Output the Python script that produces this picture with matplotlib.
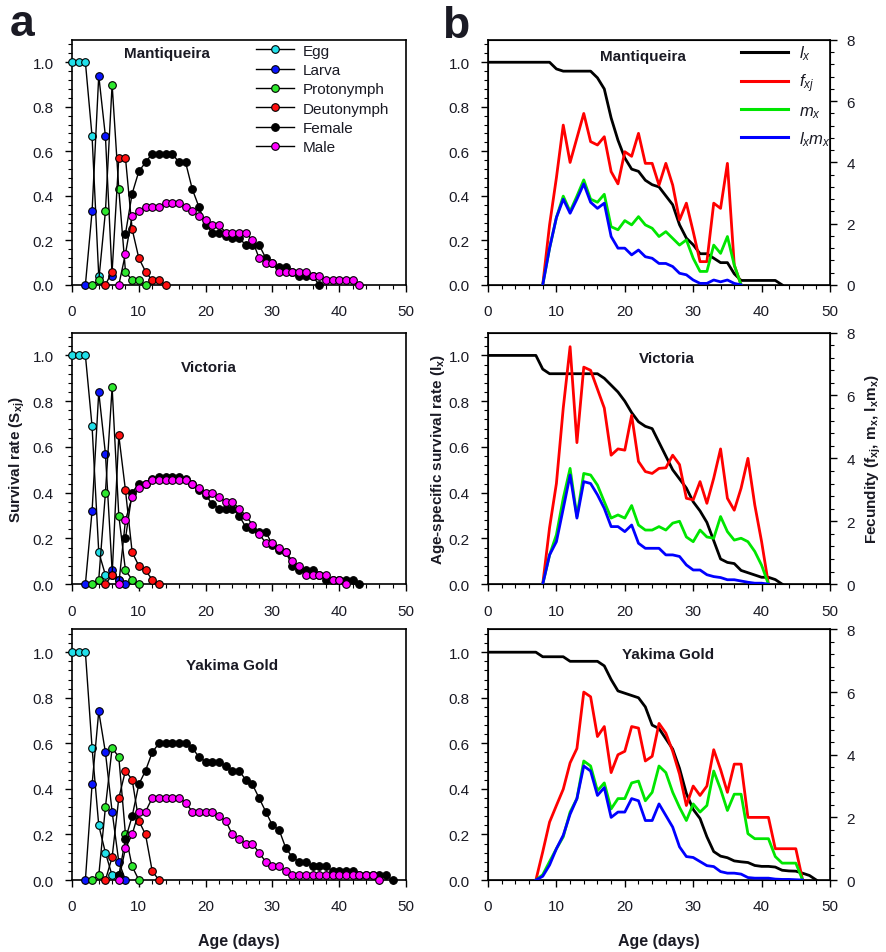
import matplotlib
matplotlib.use("Agg")
import matplotlib.pyplot as plt
import numpy as np
from matplotlib.lines import Line2D
from matplotlib.ticker import MultipleLocator

plt.rcParams["font.family"] = ["Liberation Sans", "DejaVu Sans"]
plt.rcParams["mathtext.fontset"] = "custom"
plt.rcParams["mathtext.rm"] = "Liberation Sans"
plt.rcParams["mathtext.it"] = "Liberation Sans:italic"
plt.rcParams["mathtext.bf"] = "Liberation Sans:bold"

# Age-stage survival rates (s_xj): (first day, daily values)
mant_egg = (0, [1, 1, 1, 0.667, 0.04])
mant_larva = (2, [0, 0.33, 0.94, 0.667, 0.04])
mant_proto = (3, [0, 0.02, 0.33, 0.90, 0.43, 0.06, 0.02, 0.02, 0.0])
mant_deuto = (5, [0, 0.06, 0.57, 0.57, 0.25, 0.12, 0.06, 0.02, 0.02, 0.0])
mant_female = (8, [0.23, 0.41, 0.51, 0.55, 0.59, 0.59, 0.59, 0.59, 0.55, 0.55,
                   0.43, 0.35, 0.27, 0.235, 0.235, 0.22, 0.21, 0.21, 0.18, 0.18,
                   0.18, 0.12, 0.10, 0.08, 0.08, 0.06, 0.04, 0.04, 0.04, 0.0])
mant_male = (7, [0, 0.14, 0.31, 0.33, 0.35, 0.35, 0.35, 0.37, 0.37, 0.37,
                 0.35, 0.33, 0.31, 0.29, 0.27, 0.27, 0.235, 0.235, 0.235, 0.235,
                 0.20, 0.12, 0.10, 0.10, 0.06, 0.06, 0.06, 0.06, 0.06, 0.04,
                 0.04, 0.02, 0.02, 0.02, 0.02, 0.02, 0.0])

vic_egg = (0, [1, 1, 1, 0.69, 0.14, 0.04, 0.04, 0.02])
vic_larva = (2, [0, 0.32, 0.84, 0.57, 0.06, 0.02, 0])
vic_proto = (3, [0, 0.02, 0.40, 0.86, 0.30, 0.06, 0.02, 0])
vic_deuto = (5, [0, 0.04, 0.65, 0.41, 0.14, 0.08, 0.06, 0.02, 0.0])
vic_female = (8, [0.20, 0.40, 0.44, 0.44, 0.46, 0.47, 0.47, 0.47, 0.47, 0.46,
                  0.44, 0.41, 0.39, 0.35, 0.33, 0.33, 0.33, 0.30, 0.25, 0.24,
                  0.23, 0.23, 0.17, 0.15, 0.14, 0.08, 0.06, 0.06, 0.06, 0.04,
                  0.02, 0.02, 0.02, 0.02, 0.02, 0.0])
vic_male = (7, [0, 0.28, 0.38, 0.42, 0.44, 0.455, 0.455, 0.455, 0.455, 0.455,
                0.455, 0.44, 0.42, 0.40, 0.40, 0.38, 0.36, 0.36, 0.33, 0.30,
                0.26, 0.22, 0.18, 0.18, 0.16, 0.14, 0.10, 0.08, 0.04, 0.04,
                0.04, 0.04, 0.02, 0.02, 0.0])

yak_egg = (0, [1, 1, 1, 0.58, 0.24, 0.12, 0.02, 0.02])
yak_larva = (2, [0, 0.42, 0.74, 0.56, 0.30, 0.08, 0.0])
yak_proto = (3, [0, 0.02, 0.32, 0.58, 0.54, 0.20, 0.06, 0.0])
yak_deuto = (5, [0, 0.10, 0.36, 0.48, 0.44, 0.26, 0.20, 0.04, 0.0])
yak_female = (7, [0.02, 0.18, 0.28, 0.42, 0.48, 0.56, 0.60, 0.60, 0.60, 0.60,
                  0.60, 0.58, 0.54, 0.52, 0.52, 0.52, 0.50, 0.48, 0.48, 0.44,
                  0.42, 0.36, 0.30, 0.24, 0.22, 0.14, 0.10, 0.08, 0.08, 0.06,
                  0.06, 0.06, 0.04, 0.04, 0.04, 0.04, 0.02, 0.02, 0.02, 0.02,
                  0.02, 0.0])
yak_male = (7, [0, 0.14, 0.20, 0.30, 0.30, 0.36, 0.36, 0.36, 0.36, 0.36,
                0.34, 0.30, 0.30, 0.30, 0.30, 0.28, 0.26, 0.20, 0.18, 0.16,
                0.16, 0.12, 0.08, 0.06, 0.06, 0.04, 0.02, 0.02, 0.02, 0.02,
                0.02, 0.02, 0.02, 0.02, 0.02, 0.02, 0.02, 0.02, 0.02, 0.0])

# Survivorship l_x (from day 0) and fecundity curves (from first reproductive day)
mant_lx = [1, 1, 1, 1, 1, 1, 1, 1, 1, 1, 0.97, 0.96, 0.96, 0.96, 0.96, 0.96,
           0.93, 0.88, 0.75, 0.65, 0.57, 0.52, 0.51, 0.47, 0.45, 0.44, 0.40,
           0.36, 0.27, 0.21, 0.18, 0.14, 0.14, 0.12, 0.10, 0.10, 0.05, 0.02,
           0.02, 0.02, 0.02, 0.02, 0.02, 0.0]
mant_fec_start = 8
mant_fxj = [0, 1.96, 3.5, 5.22, 4.0, 4.8, 5.6, 4.68, 4.57, 4.84, 3.7, 3.3, 4.35,
            4.2, 4.95, 3.97, 3.97, 3.26, 3.97, 3.26, 2.12, 2.67, 1.74, 0.76,
            0.76, 2.67, 2.5, 3.97, 0.65, 0]
mant_mx = [0, 1.2, 2.2, 2.9, 2.4, 2.9, 3.43, 2.8, 2.7, 2.96, 1.9, 1.8, 2.1,
           1.96, 2.23, 1.96, 1.85, 1.58, 1.74, 1.52, 1.3, 1.47, 0.87, 0.44,
           0.44, 1.3, 1.03, 1.58, 0.65, 0]
mant_lxmx = [0, 1.2, 2.2, 2.8, 2.34, 2.8, 3.3, 2.7, 2.5, 2.67, 1.58, 1.2, 1.2,
             0.98, 1.14, 0.92, 0.87, 0.7, 0.7, 0.6, 0.38, 0.33, 0.16, 0.05,
             0.05, 0.16, 0.1, 0.16, 0.05, 0]

vic_lx = [1, 1, 1, 1, 1, 1, 1, 1, 0.94, 0.92, 0.92, 0.92, 0.92, 0.92, 0.92,
          0.92, 0.92, 0.90, 0.87, 0.84, 0.80, 0.75, 0.71, 0.69, 0.68, 0.62,
          0.56, 0.50, 0.46, 0.42, 0.36, 0.32, 0.27, 0.19, 0.11, 0.095, 0.09,
          0.06, 0.05, 0.04, 0.03, 0.03, 0.02, 0.0]
vic_fec_start = 8
vic_fxj = [0, 1.8, 3.2, 5.6, 7.55, 4.5, 6.9, 6.8, 6.2, 5.6, 4.1, 4.3, 4.26,
           5.37, 3.9, 3.58, 3.52, 3.68, 3.7, 4.1, 3.8, 2.73, 2.68, 3.26, 2.57,
           3.37, 4.3, 2.73, 2.35, 3.05, 4.0, 2.52, 1.35, 0]
vic_mx = [0, 0.93, 1.57, 2.73, 3.68, 2.15, 3.52, 3.47, 3.15, 2.62, 2.1, 2.2,
          2.1, 2.5, 1.88, 1.72, 1.72, 1.83, 1.72, 1.94, 2.0, 1.5, 1.35, 1.72,
          1.5, 1.46, 2.15, 1.67, 1.4, 1.46, 1.35, 1.04, 0.6, 0]
vic_lxmx = [0, 0.93, 1.35, 2.4, 3.47, 2.1, 3.26, 3.2, 2.84, 2.41, 1.83, 1.83,
            1.67, 1.88, 1.3, 1.14, 1.14, 1.14, 0.93, 0.93, 0.88, 0.61, 0.45,
            0.45, 0.3, 0.24, 0.21, 0.14, 0.14, 0.1, 0.06, 0.03, 0.03, 0]

yak_lx = [1, 1, 1, 1, 1, 1, 1, 1, 0.98, 0.98, 0.98, 0.98, 0.96, 0.96, 0.96,
          0.96, 0.96, 0.94, 0.88, 0.83, 0.82, 0.81, 0.80, 0.76, 0.68, 0.665,
          0.62, 0.575, 0.49, 0.38, 0.31, 0.27, 0.19, 0.125, 0.105, 0.098,
          0.084, 0.08, 0.077, 0.064, 0.06, 0.06, 0.057, 0.043, 0.04, 0.039,
          0.03, 0.02, 0.0]
yak_fec_start = 7
yak_fxj = [0, 0.9, 1.85, 2.38, 2.9, 3.74, 4.2, 6.0, 5.85, 4.58, 4.9, 3.43, 4.0,
           4.11, 4.9, 4.85, 3.8, 3.95, 5.0, 4.69, 4.11, 3.38, 2.38, 3.0, 2.7,
           3.0, 4.16, 3.53, 2.8, 3.7, 3.7, 2.0, 2.0, 2.0, 2.0, 1.0, 1.0, 1.0,
           1.0, 0]
yak_mx = [0, 0.17, 0.59, 1.0, 1.38, 2.17, 2.6, 3.8, 3.64, 2.85, 3.1, 2.27, 2.6,
          2.6, 3.1, 3.16, 2.53, 2.8, 3.64, 3.43, 2.8, 2.32, 1.9, 2.43, 2.17,
          2.38, 3.48, 2.9, 2.22, 2.74, 2.74, 1.48, 1.32, 1.32, 1.32, 0.75,
          0.54, 0.54, 0.54, 0]
yak_lxmx = [0, 0.12, 0.48, 1.0, 1.43, 2.1, 2.6, 3.64, 3.48, 2.7, 2.95, 2.0,
            2.17, 2.17, 2.6, 2.53, 1.9, 1.9, 2.43, 2.06, 1.69, 1.06, 0.75,
            0.72, 0.59, 0.46, 0.43, 0.27, 0.22, 0.22, 0.19, 0.08, 0.06, 0.06,
            0.06, 0.03, 0.02, 0.02, 0.01, 0]

cultivars = ["Mantiqueira", "Victoria", "Yakima Gold"]
stage_names = ["Egg", "Larva", "Protonymph", "Deutonymph", "Female", "Male"]
stage_colors = ["#22e0ea", "#0a14ff", "#2ee82e", "#ff1010", "#000000", "#ff00ff"]

stages = [
    [mant_egg, mant_larva, mant_proto, mant_deuto, mant_female, mant_male],
    [vic_egg, vic_larva, vic_proto, vic_deuto, vic_female, vic_male],
    [yak_egg, yak_larva, yak_proto, yak_deuto, yak_female, yak_male],
]
life = [
    (mant_lx, mant_fec_start, mant_fxj, mant_mx, mant_lxmx),
    (vic_lx, vic_fec_start, vic_fxj, vic_mx, vic_lxmx),
    (yak_lx, yak_fec_start, yak_fxj, yak_mx, yak_lxmx),
]

TXT = "#1a1a24"


def style_axis(ax):
    ax.set_xlim(0, 50)
    ax.set_ylim(0, 1.1)
    ax.set_xticks(range(0, 51, 10))
    ax.set_yticks(np.arange(0, 1.01, 0.2))
    ax.yaxis.set_major_formatter(matplotlib.ticker.FormatStrFormatter("%.1f"))
    ax.xaxis.set_minor_locator(MultipleLocator(2))
    ax.yaxis.set_minor_locator(MultipleLocator(0.04))
    ax.tick_params(which="major", direction="out", length=5, width=1,
                   labelsize=11, labelcolor=TXT)
    ax.tick_params(which="minor", direction="out", length=3, width=0.8)
    ax.tick_params(axis="x", which="major", pad=9)
    ax.tick_params(axis="y", which="major", pad=8)
    for s in ax.spines.values():
        s.set_linewidth(1.2)


fig = plt.figure(figsize=(8.86, 9.53), dpi=100)
rows = [(0.700, 0.257), (0.386, 0.264), (0.0755, 0.263)]
title_pos_a = [(14.2, 1.04), (20.5, 0.95), (24.0, 0.945)]
title_pos_b = [(22.7, 1.03), (26.2, 0.99), (26.3, 0.99)]

for i, (bottom, height) in enumerate(rows):
    # left: age-stage survival
    ax = fig.add_axes([0.0813, bottom, 0.377, height])
    style_axis(ax)
    for (start, vals), col in zip(stages[i], stage_colors):
        days = start + np.arange(len(vals))
        ax.plot(days, vals, color="black", lw=1, marker="o", ms=5.5,
                mfc=col, mec="black", mew=0.8, clip_on=False, zorder=3)
    ax.text(*title_pos_a[i], cultivars[i], ha="center", va="center",
            fontsize=11, fontweight="bold", color=TXT)

    # right: l_x on left axis, fecundity on right axis
    axb = fig.add_axes([0.5508, bottom, 0.386, height])
    style_axis(axb)
    lx, fstart, fxj, mx, lxmx = life[i]
    axb.plot(np.arange(len(lx)), lx, color="black", lw=2, zorder=4)
    ax2 = axb.twinx()
    ax2.set_ylim(0, 8)
    ax2.set_yticks(range(0, 9, 2))
    ax2.yaxis.set_minor_locator(MultipleLocator(0.4))
    ax2.tick_params(which="major", direction="out", length=5, width=1,
                    labelsize=11, labelcolor=TXT, pad=7)
    ax2.tick_params(which="minor", direction="out", length=3, width=0.8)
    fdays = fstart + np.arange(len(fxj))
    ax2.plot(fdays, fxj, color="#ff0000", lw=2)
    ax2.plot(fdays, mx, color="#00e600", lw=2)
    ax2.plot(fdays, lxmx, color="#0000ff", lw=2)
    axb.text(*title_pos_b[i], cultivars[i], ha="center", va="center",
             fontsize=11, fontweight="bold", color=TXT)

    if i == 0:
        handles = [Line2D([], [], color="black", lw=1, marker="o", ms=5.5,
                          mfc=c, mec="black", mew=0.8) for c in stage_colors]
        ax.legend(handles, stage_names, loc="upper left",
                  bbox_to_anchor=(0.55, 0.985), frameon=False, fontsize=11,
                  handlelength=2.5, handletextpad=0.6, labelspacing=0.35,
                  borderaxespad=0, borderpad=0, labelcolor=TXT)
        lh = [Line2D([], [], color=c, lw=2.2)
              for c in ["black", "#ff0000", "#00e600", "#0000ff"]]
        ax2.legend(lh, [r"$l_x$", r"$f_{xj}$", r"$m_x$", r"$l_xm_x$"],
                   loc="upper left", bbox_to_anchor=(0.74, 0.985),
                   frameon=False, fontsize=12, handlelength=2.8,
                   handletextpad=0.7, labelspacing=0.55, borderaxespad=0,
                   borderpad=0, labelcolor=TXT)
    if i == 1:
        ax.set_ylabel(r"Survival rate ($\mathbf{S_{xj}}$)", fontsize=11,
                      fontweight="bold", color=TXT, labelpad=4)
        axb.set_ylabel(r"Age-specific survival rate ($\mathbf{l_x}$)",
                       fontsize=11, fontweight="bold", color=TXT, labelpad=1)
        ax2.set_ylabel(r"Fecundity ($\mathbf{f_{xj}}$, $\mathbf{m_x}$, $\mathbf{l_xm_x}$)",
                       fontsize=11, fontweight="bold", color=TXT, labelpad=6)
    if i == 2:
        ax.set_xlabel("Age (days)", fontsize=11.5, fontweight="bold",
                      color=TXT, labelpad=14)
        axb.set_xlabel("Age (days)", fontsize=11.5, fontweight="bold",
                       color=TXT, labelpad=14)

fig.text(0.011, 0.962, "a", fontsize=32, fontweight="bold", color=TXT)
fig.text(0.499, 0.960, "b", fontsize=32, fontweight="bold", color=TXT)

fig.savefig("out.png", dpi=100)
